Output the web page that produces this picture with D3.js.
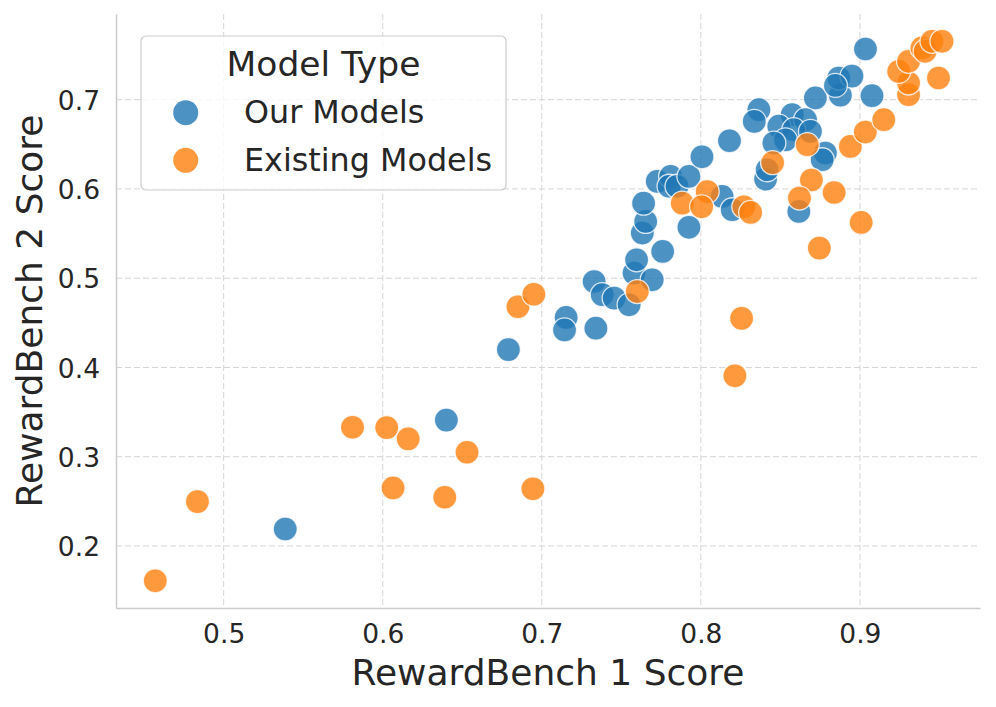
<!DOCTYPE html>
<html>
<head>
<meta charset="utf-8">
<script src="https://cdn.jsdelivr.net/npm/d3@7"></script>
<style>
  body { margin: 0; background: #fff; }
  text { font-family: 'DejaVu Sans', sans-serif; fill: #262626; }
</style>
</head>
<body>
<svg id="chart" width="996" height="707"></svg>
<script>
// 数据: RewardBench 1 / RewardBench 2
let ourX = [0.5387, 0.640, 0.679, 0.7153, 0.7143, 0.734, 0.7329, 0.738, 0.7455, 0.7549,
  0.758, 0.7596, 0.7694, 0.776, 0.7632, 0.7653, 0.764, 0.7925, 0.7726, 0.781,
  0.780, 0.785, 0.7925, 0.8134, 0.8197, 0.8007, 0.818, 0.8407, 0.8417, 0.8365,
  0.8336, 0.872, 0.8877, 0.9076, 0.8867, 0.895, 0.8846, 0.9035, 0.8574, 0.8658,
  0.849, 0.8584, 0.8689, 0.8532, 0.8459, 0.8783, 0.8763, 0.8616];
let ourY = [0.219, 0.341, 0.420, 0.456, 0.442, 0.444, 0.4963, 0.4815, 0.4777, 0.4702,
  0.5057, 0.5206, 0.4982, 0.530, 0.5506, 0.5636, 0.584, 0.557, 0.6085, 0.614,
  0.603, 0.603, 0.614, 0.5916, 0.5767, 0.636, 0.654, 0.611, 0.6215, 0.6888,
  0.6757, 0.702, 0.705, 0.7045, 0.7242, 0.7264, 0.716, 0.7568, 0.6832, 0.6776,
  0.6703, 0.6664, 0.6645, 0.655, 0.6514, 0.6402, 0.6327, 0.5748];

let existX = [0.457, 0.4835, 0.581, 0.6025, 0.616, 0.653, 0.6065, 0.639, 0.6944, 0.685,
  0.695, 0.760, 0.7883, 0.804, 0.8005, 0.827, 0.8313, 0.8256, 0.8214, 0.8451,
  0.8669, 0.8695, 0.862, 0.8838, 0.9008, 0.8745, 0.894, 0.9034, 0.915, 0.9306,
  0.9306, 0.9244, 0.9306, 0.939, 0.941, 0.9453, 0.9516, 0.9494];
let existY = [0.161, 0.2497, 0.333, 0.3326, 0.320, 0.305, 0.265, 0.2546, 0.264, 0.468,
  0.482, 0.485, 0.584, 0.597, 0.580, 0.580, 0.5737, 0.455, 0.3906, 0.6294,
  0.6496, 0.610, 0.5898, 0.596, 0.5625, 0.5337, 0.6476, 0.6637, 0.6776, 0.7056,
  0.7187, 0.7317, 0.743, 0.758, 0.7542, 0.7654, 0.7654, 0.7243];

let xTicks = [0.5, 0.6, 0.7, 0.8, 0.9];
let yTicks = [0.2, 0.3, 0.4, 0.5, 0.6, 0.7];
let seriesNames = ['Our Models', 'Existing Models'];
let seriesColors = ['#1f77b4', '#ff7f0e'];

let plotLeft = 116, plotRight = 980, plotTop = 14, plotBottom = 608;
let svg = d3.select('#chart');

let x = d3.scaleLinear().domain([0.4323, 0.9755]).range([plotLeft, plotRight]);
let y = d3.scaleLinear().domain([0.1305, 0.796]).range([plotBottom, plotTop]);

// 网格线
let grid = svg.append('g').attr('stroke', '#d5d5d5').attr('stroke-width', 1).attr('stroke-dasharray', '6,3');
grid.selectAll('.gx').data(xTicks).join('line').attr('class', 'gx')
  .attr('x1', d => x(d)).attr('x2', d => x(d)).attr('y1', plotTop).attr('y2', plotBottom);
grid.selectAll('.gy').data(yTicks).join('line').attr('class', 'gy')
  .attr('y1', d => y(d)).attr('y2', d => y(d)).attr('x1', plotLeft).attr('x2', plotRight);

// 坐标轴
let xAxis = svg.append('g').attr('transform', `translate(0,${plotBottom})`)
  .call(d3.axisBottom(x).tickValues(xTicks).tickFormat(d3.format('.1f')).tickSize(0).tickPadding(16));
let yAxis = svg.append('g').attr('transform', `translate(${plotLeft},0)`)
  .call(d3.axisLeft(y).tickValues(yTicks).tickFormat(d3.format('.1f')).tickSize(0).tickPadding(16));
[xAxis, yAxis].forEach(a => {
  a.select('.domain').attr('stroke', '#cccccc').attr('stroke-width', 1.5);
  a.selectAll('text').style('font-size', '26.5px').style('font-family', "'DejaVu Sans', sans-serif").attr('fill', '#262626');
});
xAxis.selectAll('text').attr('dy', '0.71em');
yAxis.selectAll('text').attr('dy', '0.36em');

// 散点
let points = [];
ourX.forEach((v, i) => points.push({ x: v, y: ourY[i], s: 0 }));
existX.forEach((v, i) => points.push({ x: v, y: existY[i], s: 1 }));
svg.append('g').selectAll('circle').data(points).join('circle')
  .attr('cx', d => x(d.x))
  .attr('cy', d => y(d.y))
  .attr('r', 12)
  .attr('fill', d => seriesColors[d.s])
  .attr('fill-opacity', 0.8)
  .attr('stroke', '#fff')
  .attr('stroke-opacity', 0.8)
  .attr('stroke-width', 1.3);

// 轴标题
svg.append('text').attr('x', (plotLeft + plotRight) / 2).attr('y', 685)
  .attr('text-anchor', 'middle').style('font-size', '36px').text('RewardBench 1 Score');
svg.append('text').attr('transform', `translate(42,${(plotTop + plotBottom) / 2}) rotate(-90)`)
  .attr('text-anchor', 'middle').style('font-size', '36px').text('RewardBench 2 Score');

// 图例
let legend = svg.append('g');
legend.append('rect').attr('x', 141).attr('y', 36).attr('width', 365).attr('height', 154)
  .attr('rx', 5).attr('fill', '#fff').attr('fill-opacity', 0.8)
  .attr('stroke', '#cccccc').attr('stroke-width', 1.2);
legend.append('text').attr('x', 323.5).attr('y', 76).attr('text-anchor', 'middle')
  .style('font-size', '34.5px').text('Model Type');
let items = legend.selectAll('.item').data(seriesNames).join('g').attr('class', 'item')
  .attr('transform', (d, i) => `translate(0,${112.7 + i * 47.6})`);
items.append('circle').attr('cx', 185.7).attr('cy', 0).attr('r', 12.5)
  .attr('fill', (d, i) => seriesColors[i]).attr('fill-opacity', 0.8);
items.append('text').attr('x', 244).attr('y', 10.5).style('font-size', '31.8px').text(d => d);
</script>
</body>
</html>
